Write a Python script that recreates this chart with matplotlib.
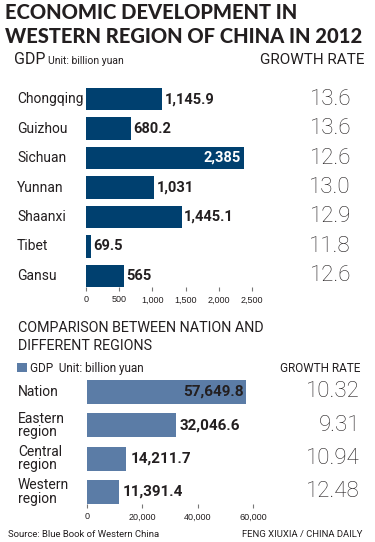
import matplotlib
matplotlib.use("Agg")
import matplotlib.pyplot as plt
from matplotlib.transforms import blended_transform_factory
from matplotlib.patches import Rectangle

W, H = 375, 542
DPI = 100

provinces = ["Chongqing", "Guizhou", "Sichuan", "Yunnan", "Shaanxi", "Tibet", "Gansu"]
prov_gdp = [1145.9, 680.2, 2385, 1031, 1445.1, 69.5, 565]
prov_gdp_labels = ["1,145.9", "680.2", "2,385", "1,031", "1,445.1", "69.5", "565"]
prov_growth = ["13.6", "13.6", "12.6", "13.0", "12.9", "11.8", "12.6"]
prov_ticks = [0, 500, 1000, 1500, 2000, 2500]
prov_tick_labels = ["0", "500", "1,000", "1,500", "2,000", "2,500"]

regions = ["Nation", "Eastern\nregion", "Central\nregion", "Western\nregion"]
reg_gdp = [57649.8, 32046.6, 14211.7, 11391.4]
reg_gdp_labels = ["57,649.8", "32,046.6", "14,211.7", "11,391.4"]
reg_growth = ["10.32", "9.31", "10.94", "12.48"]
reg_ticks = [0, 20000, 40000, 60000]
reg_tick_labels = ["0", "20,000", "40,000", "60,000"]

DARK = "#00406f"
LIGHT = "#5b7ca6"
TXT = "#231f20"

fig = plt.figure(figsize=(W / DPI, H / DPI), dpi=DPI)
fig.patch.set_facecolor("white")

def fx(x):
    return x / W

def fy(y):
    return 1 - y / H

def ftext(x, y, s, **kw):
    kw.setdefault("color", TXT)
    fig.text(fx(x), fy(y), s, **kw)

# Title
ftext(5, 19, "ECONOMIC DEVELOPMENT IN", fontsize=14.5, fontweight="black",
      family="Lato", va="baseline")
ftext(5, 43, "WESTERN REGION OF CHINA IN 2012", fontsize=14.5, fontweight="black",
      family="Lato", va="baseline")

ftext(14, 64, "GDP", fontsize=11.5, family="Roboto", va="baseline")
ftext(48, 64, "Unit: billion yuan", fontsize=7.5, family="Roboto", va="baseline")
ftext(364, 64, "GROWTH RATE", fontsize=11, family="Roboto", va="baseline", ha="right")

def make_axes(x0, x1, y0, y1):
    ax = fig.add_axes([fx(x0), fy(y1), (x1 - x0) / W, (y1 - y0) / H])
    for s in ax.spines.values():
        s.set_visible(False)
    ax.set_yticks([])
    ax.tick_params(axis="x", length=3, width=0.8, color="#777777", pad=3,
                   labelsize=6.5, labelcolor=TXT)
    return ax

# Top chart
ax1 = make_axes(86, 252, 88, 287)
n1 = len(provinces)
pos1 = list(range(n1))
ax1.barh(pos1, prov_gdp, height=0.758, color=DARK)
ax1.set_xlim(0, 2500)
ax1.set_ylim(n1 - 1 + 0.379, -0.379)
ax1.set_xticks(prov_ticks)
ax1.set_xticklabels(prov_tick_labels, family="Liberation Sans")
tr1 = blended_transform_factory(fig.transFigure, ax1.transData)
for i, (name, v, lab, g) in enumerate(zip(provinces, prov_gdp, prov_gdp_labels, prov_growth)):
    ax1.text(fx(17), i, name, transform=tr1, ha="left", va="center",
             fontsize=10, family="Roboto", color=TXT)
    if v > 2000:
        ax1.text(v - 55, i, lab, ha="right", va="center", fontsize=10.5,
                 fontweight="bold", color="white", family="Roboto")
    else:
        ax1.text(v + 35, i, lab, ha="left", va="center", fontsize=10.5,
                 fontweight="bold", color=TXT, family="Roboto", clip_on=False)
    ax1.text(fx(351), i, g, transform=tr1, ha="right", va="center",
             fontsize=16, family="Roboto", fontweight="light", color=TXT)

# Bottom section header
ftext(18, 332, "COMPARISON BETWEEN NATION AND", fontsize=10.3, family="Roboto", va="baseline")
ftext(18, 350, "DIFFERENT REGIONS", fontsize=10.3, family="Roboto", va="baseline")
fig.patches.append(Rectangle((fx(17), fy(372)), 10 / W, 9 / H, transform=fig.transFigure,
                             facecolor=LIGHT, edgecolor="none"))
ftext(30, 372, "GDP  Unit: billion yuan", fontsize=8.5, family="Roboto", va="baseline")
ftext(360, 372, "GROWTH RATE", fontsize=8.5, family="Roboto", va="baseline", ha="right")

ax2 = make_axes(87, 253, 380, 504)
n2 = len(regions)
pos2 = list(range(n2))
ax2.barh(pos2, reg_gdp, height=0.72, color=LIGHT)
ax2.set_xlim(0, 60000)
ax2.set_ylim(n2 - 1 + 0.36, -0.36)
ax2.set_xticks(reg_ticks)
ax2.set_xticklabels(reg_tick_labels, family="Liberation Sans")
tr2 = blended_transform_factory(fig.transFigure, ax2.transData)
for i, (name, v, lab, g) in enumerate(zip(regions, reg_gdp, reg_gdp_labels, reg_growth)):
    ax2.text(fx(18), i, name, transform=tr2, ha="left", va="center",
             fontsize=10, family="Roboto", color=TXT, linespacing=0.95)
    if v > 50000:
        ax2.text(v - 1000, i, lab, ha="right", va="center", fontsize=11,
                 fontweight="bold", color=TXT, family="Roboto")
    else:
        ax2.text(v + 1500, i, lab, ha="left", va="center", fontsize=11,
                 fontweight="bold", color=TXT, family="Roboto", clip_on=False)
    ax2.text(fx(360), i, g, transform=tr2, ha="right", va="center",
             fontsize=16, family="Roboto", fontweight="light", color=TXT)

ftext(8, 537, "Source: Blue Book of Western China", fontsize=6.8, family="Roboto", va="baseline")
ftext(362, 537, "FENG XIUXIA / CHINA DAILY", fontsize=6.8, family="Roboto", va="baseline", ha="right")

fig.savefig("out.png", dpi=DPI, facecolor="white")
